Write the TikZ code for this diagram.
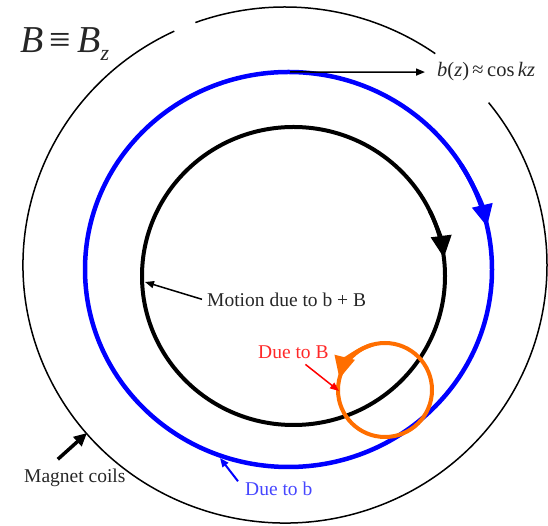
\documentclass[tikz,border=0pt]{standalone}
\usepackage{fontspec}
\setmainfont{Liberation Serif}
\usetikzlibrary{arrows.meta}
\definecolor{gyroorange}{RGB}{255,110,0}
\definecolor{labelred}{RGB}{255,40,40}
\definecolor{labelblue}{RGB}{70,70,255}
\tikzset{
  lbl/.style={inner sep=0pt, anchor=base west, font=\fontsize{19.5}{22}\selectfont, text=black!85},
  coil/.style={draw=black, line width=1.5pt},
  orbitb/.style={draw=blue, line width=4.5pt},
  orbitbB/.style={draw=black, line width=4pt},
  gyro/.style={draw=gyroorange, line width=4pt},
  pointer/.style={-{Triangle[length=9pt, width=7pt]}, line width=1.5pt},
  bigtip/.style={-{Triangle[length=22pt, width=20pt]}},
}
\begin{document}
\begin{tikzpicture}[x=1pt, y=1pt]
    \useasboundingbox (0,0) rectangle (548,526);
    % magnet coils
    \draw[coil] ([shift={(285,261)}]55:262 and 258) arc [start angle=55, end angle=110, x radius=262, y radius=258];
    \draw[coil] ([shift={(285,261)}]115:262 and 258) arc [start angle=115, end angle=399, x radius=262, y radius=258];
    % orbits
    \draw[orbitb] (288.5,256.5) ellipse [x radius=203.5, y radius=197.5];
    \draw[orbitb, bigtip] ([shift={(288.5,256.5)}]32:203.5 and 197.5) arc [start angle=32, end angle=12.5, x radius=203.5, y radius=197.5];
    \draw[orbitbB] (293.5,250) ellipse [x radius=151.5, y radius=149];
    \draw[orbitbB, bigtip] ([shift={(293.5,250)}]26:151.5 and 149) arc [start angle=26, end angle=7, x radius=151.5, y radius=149];
    \draw[gyro] (385,136) circle [radius=47];
    \draw[gyro, bigtip] ([shift={(385,136)}]105:47) arc [start angle=105, end angle=166, radius=47];
    \coordinate (btop) at (290,454);
    \coordinate (orbitleft) at (145,244);
    \coordinate (gyroleft) at (339,135);
    \coordinate (bleft) at (220,68);
    \coordinate (coilleft) at (87,93);
    \node[lbl, font=\fontsize{38}{40}\selectfont\itshape] (bfield) at (20,473) {B\,{\upshape ≡}\,B\raisebox{-8pt}{\fontsize{22}{22}\selectfont z}};
    \node[lbl, font=\fontsize{20.5}{22}\selectfont] (bz) at (437,449) {\textit{b}(\textit{z})\,≈\,cos\,\textit{kz}};
    \node[lbl] (motion) at (207,219) {Motion due to b + B};
    \node[lbl] (coils) at (24,43) {Magnet coils};
    \node[lbl, text=labelred] (dueB) at (258,167) {Due to B};
    \node[lbl, text=labelblue] (dueb) at (245,30) {Due to b};
    \draw[pointer] (btop) -- ([xshift=-12pt]bz.west);
    \draw[pointer] ([shift={(-5pt,1pt)}]motion.west) -- (orbitleft);
    \draw[pointer, red] ([shift={(12pt,-5pt)}]dueB.south) -- (gyroleft);
    \draw[pointer, blue, line width=2pt] ([shift={(-7pt,1pt)}]dueb.north west) -- (bleft);
    \draw[-{Triangle[length=13pt, width=12pt]}, line width=3.5pt] ([shift={(-17pt,10pt)}]coils.north) -- (coilleft);
  \end{tikzpicture}
\end{document}
